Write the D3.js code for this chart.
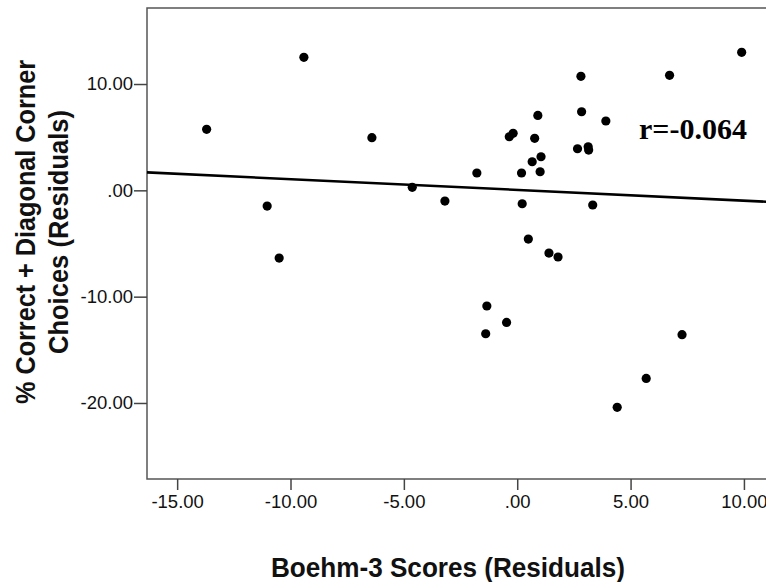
<!DOCTYPE html>
<html>
<head>
<meta charset="utf-8">
<script src="https://cdn.jsdelivr.net/npm/d3@7"></script>
<style>
  body { margin: 0; background: #fff; }
  svg { display: block; }
  .tick text { font-family: "Liberation Sans", Arial, sans-serif; font-size: 18.5px; fill: #111; }
  .axis-title { font-family: "Liberation Sans", Arial, sans-serif; font-weight: bold; fill: #111; }
</style>
</head>
<body>
<div id="chart"></div>
<script>
// ---- Data (residuals)
const boehmResid = [
  -13.70, -9.41, -6.41, -11.03, -10.50, -4.63, -3.19, -1.78, -0.35, -0.18,
  0.19, 0.22, 0.49, 0.66, 0.77, 0.91, 1.01, 1.05, 2.66, 2.81,
  2.84, 3.13, 3.15, 3.33, 3.91, 6.72, 9.90, 1.40, 1.80, -1.34,
  -0.47, -1.39, 7.27, 5.69, 4.41
];
const choiceResid = [
  5.74, 12.51, 4.95, -1.48, -6.37, 0.28, -1.01, 1.63, 5.04, 5.36,
  1.63, -1.26, -4.58, 2.69, 4.89, 7.05, 1.75, 3.16, 3.91, 10.72,
  7.39, 4.10, 3.79, -1.38, 6.52, 10.82, 12.98, -5.90, -6.27, -10.88,
  -12.42, -13.49, -13.58, -17.69, -20.41
];
const xTicks = [-15, -10, -5, 0, 5, 10];
const yTicks = [10, 0, -10, -20];
const fitSlope = -0.101;
const fitIntercept = 0.04;
const rLabel = 'r=-0.064';
const xTitle = 'Boehm-3 Scores (Residuals)';
const yTitleLines = ['% Correct + Diagonal Corner', 'Choices (Residuals)'];

// ---- Layout
const W = 766, H = 582;
const margin = { left: 147, top: 8, right: -4, bottom: 103 };
const plotW = W - margin.left - margin.right;
const plotH = H - margin.top - margin.bottom;

const svg = d3.select('#chart').append('svg')
  .attr('width', W).attr('height', H);

const x = d3.scaleLinear().domain([-16.33, 11.15]).range([0, plotW]);
const y = d3.scaleLinear().domain([-27.15, 17.15]).range([plotH, 0]);

// two-decimal labels, plain hyphen, leading zero dropped (SPSS style)
const fmt = v => v.toFixed(2).replace(/^(-?)0\./, '$1.');

const g = svg.append('g')
  .attr('transform', `translate(${margin.left},${margin.top})`);

// ---- Frame
g.append('rect')
  .attr('width', plotW).attr('height', plotH)
  .attr('fill', 'none').attr('stroke', '#555').attr('stroke-width', 1.5);

// ---- Axes
const xAxis = g.append('g')
  .attr('transform', `translate(0,${plotH})`)
  .call(d3.axisBottom(x).tickValues(xTicks).tickFormat(fmt).tickSize(11).tickPadding(5).tickSizeOuter(0));
const yAxis = g.append('g')
  .call(d3.axisLeft(y).tickValues(yTicks).tickFormat(fmt).tickSize(13).tickPadding(1).tickSizeOuter(0));
[xAxis, yAxis].forEach(a => {
  a.select('.domain').remove();
  a.selectAll('.tick line').attr('stroke', '#444').attr('stroke-width', 1.5);
});

// ---- Fit line
g.append('line')
  .attr('x1', x(x.domain()[0])).attr('y1', y(fitIntercept + fitSlope * x.domain()[0]))
  .attr('x2', x(x.domain()[1])).attr('y2', y(fitIntercept + fitSlope * x.domain()[1]))
  .attr('stroke', '#000').attr('stroke-width', 2.6);

// ---- Points
g.selectAll('circle.pt')
  .data(d3.zip(boehmResid, choiceResid))
  .join('circle')
  .attr('class', 'pt')
  .attr('cx', d => x(d[0]))
  .attr('cy', d => y(d[1]))
  .attr('r', 4.6)
  .attr('fill', '#000');

// ---- r annotation
svg.append('text')
  .attr('x', 639).attr('y', 139)
  .style('font-family', '"Liberation Serif", "Times New Roman", serif')
  .style('font-weight', 'bold')
  .style('font-size', '30px')
  .text(rLabel);

// ---- Axis titles (condensed bold, stretched to the reference length)
svg.append('text')
  .attr('class', 'axis-title')
  .attr('x', 448).attr('y', 577)
  .attr('text-anchor', 'middle')
  .attr('textLength', 354)
  .attr('lengthAdjust', 'spacingAndGlyphs')
  .style('font-size', '28px')
  .text(xTitle);

const yt = svg.append('text')
  .attr('class', 'axis-title')
  .attr('transform', 'translate(0,232) rotate(-90)')
  .attr('text-anchor', 'middle')
  .style('font-size', '27px');
yt.selectAll('tspan').data(yTitleLines).join('tspan')
  .attr('x', 0)
  .attr('y', (d, i) => 35 + i * 33)
  .attr('textLength', (d, i) => [344, 244][i])
  .attr('lengthAdjust', 'spacingAndGlyphs')
  .text(d => d);
</script>
</body>
</html>
